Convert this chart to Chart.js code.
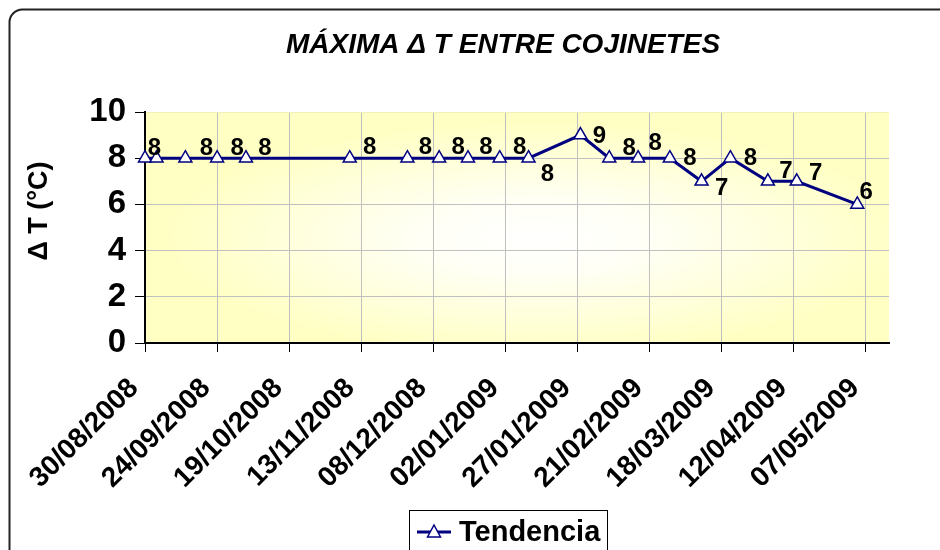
<!DOCTYPE html>
<html>
<head>
<meta charset="utf-8">
<script src="https://cdn.jsdelivr.net/npm/chart.js@4.4.1/dist/chart.umd.min.js"></script>
<style>
  html, body { margin: 0; padding: 0; background: #fff; }
  #wrap { width: 940px; height: 550px; }
</style>
</head>
<body>
<div id="wrap"><canvas id="c" width="940" height="550"></canvas></div>
<script>
// Measurement dates (dd/mm/yyyy) and the maximum bearing temperature difference
const dates = ['30/08/2008','03/09/2008','13/09/2008','24/09/2008','04/10/2008',
               '09/11/2008','29/11/2008','10/12/2008','20/12/2008','31/12/2008',
               '10/01/2009','28/01/2009','07/02/2009','17/02/2009','28/02/2009',
               '11/03/2009','21/03/2009','03/04/2009','13/04/2009','04/05/2009'];
const tendencia = [8, 8, 8, 8, 8, 8, 8, 8, 8, 8, 8, 9, 8, 8, 8, 7, 8, 7, 7, 6];

// Axis range and tick settings
const axisStart = '30/08/2008';
const axisEnd = '15/05/2009';
const tickStepDays = 25;
const yMin = 0, yMax = 10, yStep = 2;

const titleText = 'MÁXIMA Δ T ENTRE COJINETES';
const yTitleText = 'Δ T (°C)';
const seriesName = 'Tendencia';

// Placement of each value label relative to its point: [dx, dy] or null
const labelPlacement = [null,[-2,-10],[21,-10],[20,-10],[19,-10],[20,-11],[18,-11],[19,-11],[18,-11],[20,-11],
                        [19,16],[19,1],[20,-10],[17,-15],[20,0],[20,7],[20,0],[18,-10],[19,-8],[9,-12]];

const DAY = 86400000;
function toMs(s) { const [d, m, y] = s.split('/').map(Number); return Date.UTC(y, m - 1, d); }
function fmt(ms) {
  const dt = new Date(ms);
  const p = n => String(n).padStart(2, '0');
  return p(dt.getUTCDate()) + '/' + p(dt.getUTCMonth() + 1) + '/' + dt.getUTCFullYear();
}

const FONT = "'Liberation Sans', Arial, sans-serif";
const NAVY = '#000080';

const frame = {
  id: 'frame',
  beforeDraw(chart) {
    const ctx = chart.ctx, a = chart.chartArea;
    ctx.save();
    ctx.fillStyle = '#fff';
    ctx.fillRect(0, 0, chart.width, chart.height);
    // rounded outer border
    ctx.strokeStyle = '#222';
    ctx.lineWidth = 2;
    ctx.beginPath();
    ctx.roundRect(9.5, 9.5, chart.width + 20, chart.height + 20, 13);
    ctx.stroke();
    // plot area fill: white centre fading to pale yellow
    const cx = (a.left + a.right) / 2 + 20, cy = (a.top + a.bottom) / 2 + 10;
    ctx.beginPath();
    ctx.rect(a.left, a.top, a.right - a.left, a.bottom - a.top);
    ctx.clip();
    ctx.translate(cx, cy);
    ctx.scale((a.right - a.left) / 2, (a.bottom - a.top) / 2);
    const g = ctx.createRadialGradient(0, 0, 0, 0, 0, 1);
    g.addColorStop(0, '#ffffff');
    g.addColorStop(0.3, '#fffff6');
    g.addColorStop(1, '#ffffc4');
    ctx.fillStyle = g;
    ctx.fillRect(-2, -2, 4, 4);
    ctx.restore();
  },
  afterDatasetsDraw(chart) {
    const ctx = chart.ctx;
    const meta = chart.getDatasetMeta(0);
    const vals = chart.data.datasets[0].data;
    ctx.save();
    ctx.font = 'bold 24px ' + FONT;
    ctx.fillStyle = '#000';
    ctx.textAlign = 'center';
    ctx.textBaseline = 'middle';
    meta.data.forEach((pt, i) => {
      const off = labelPlacement[i];
      if (!off) return;
      ctx.fillText(String(vals[i].y), pt.x + off[0], pt.y + off[1]);
    });
    ctx.restore();
  },
  afterDraw(chart) {
    const ctx = chart.ctx;
    ctx.save();
    // title
    ctx.font = 'italic bold 28px ' + FONT;
    ctx.fillStyle = '#000';
    ctx.textAlign = 'center';
    ctx.textBaseline = 'middle';
    ctx.fillText(titleText, 503, 45);
    // vertical axis title
    ctx.save();
    ctx.translate(40, 211);
    ctx.rotate(-Math.PI / 2);
    ctx.font = 'bold 27px ' + FONT;
    ctx.fillText(yTitleText, 0, 0);
    ctx.restore();
    // legend box (runs off the bottom edge)
    ctx.strokeStyle = '#000';
    ctx.lineWidth = 1;
    ctx.strokeRect(409.5, 510.5, 198, 60);
    ctx.strokeStyle = NAVY;
    ctx.lineWidth = 3;
    ctx.beginPath();
    ctx.moveTo(417, 532);
    ctx.lineTo(451, 532);
    ctx.stroke();
    ctx.fillStyle = '#fff';
    ctx.lineWidth = 1.5;
    ctx.beginPath();
    ctx.moveTo(434, 525);
    ctx.lineTo(440.5, 537);
    ctx.lineTo(427.5, 537);
    ctx.closePath();
    ctx.fill();
    ctx.stroke();
    ctx.font = 'bold 29px ' + FONT;
    ctx.fillStyle = '#000';
    ctx.textAlign = 'left';
    ctx.fillText(seriesName, 459, 533);
    ctx.restore();
  }
};

const xMin = toMs(axisStart), xMax = toMs(axisEnd);

new Chart(document.getElementById('c'), {
  type: 'line',
  data: {
    datasets: [{
      label: seriesName,
      data: dates.map((d, i) => ({ x: toMs(d), y: tendencia[i] })),
      borderColor: NAVY,
      borderWidth: 3,
      tension: 0,
      pointStyle: 'triangle',
      pointRadius: 7.5,
      pointBackgroundColor: '#fff',
      pointBorderColor: NAVY,
      pointBorderWidth: 1.5,
      clip: false
    }]
  },
  options: {
    responsive: false,
    devicePixelRatio: 1,
    animation: false,
    layout: { padding: { top: 112, left: 0, right: 51, bottom: 0 } },
    plugins: { legend: { display: false }, title: { display: false }, tooltip: { enabled: false } },
    scales: {
      x: {
        type: 'linear',
        min: xMin,
        max: xMax,
        afterBuildTicks(scale) {
          const t = [];
          for (let v = xMin; v <= xMax; v += tickStepDays * DAY) t.push({ value: v });
          scale.ticks = t;
        },
        afterFit(scale) { scale.height = 207; },
        grid: { color: '#c0c0c0', lineWidth: 1, tickColor: '#000', tickLength: 9, drawOnChartArea: true },
        border: { display: true, color: '#000', width: 2 },
        ticks: {
          autoSkip: false,
          maxRotation: 45,
          minRotation: 45,
          padding: 20,
          labelOffset: -11,
          color: '#000',
          font: { family: FONT, size: 28, weight: 'bold' },
          callback: v => fmt(v)
        }
      },
      y: {
        min: yMin,
        max: yMax,
        afterFit(scale) { scale.width = 145; },
        grid: {
          color: ctx => ctx.tick && ctx.tick.value === yMax ? '#f0f0b8' : '#c0c0c0',
          lineWidth: 1, tickColor: '#000', tickLength: 10
        },
        border: { display: true, color: '#000', width: 2 },
        ticks: {
          stepSize: yStep,
          padding: 9,
          color: '#000',
          font: { family: FONT, size: 33, weight: 'bold' }
        }
      }
    }
  },
  plugins: [frame]
});
</script>
</body>
</html>
